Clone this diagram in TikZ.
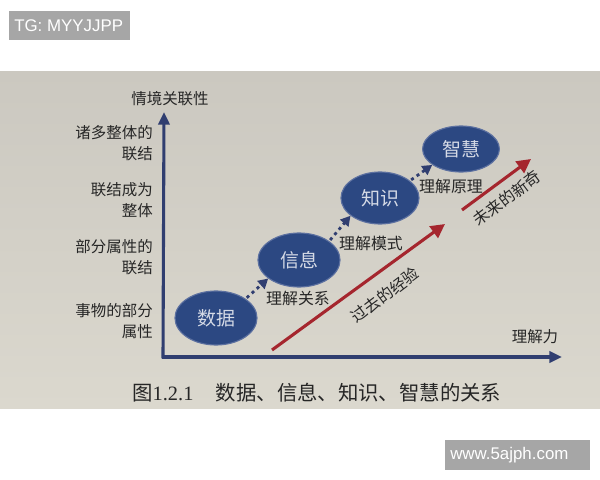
\documentclass[tikz,border=0pt]{standalone}
\usepackage{fontspec}
\setmainfont{Liberation Serif}
\newfontfamily\cjk{Noto Sans CJK SC}
\newfontfamily\wmfont{Liberation Sans}
\usepackage{tikz}
\usetikzlibrary{shapes.geometric, arrows.meta, positioning, calc}

\definecolor{navy1}{RGB}{44, 72, 130}
\definecolor{navyrim}{RGB}{92, 112, 160}
\definecolor{axisblue}{RGB}{48, 62, 112}
\definecolor{redarrow}{RGB}{165, 38, 46}
\definecolor{paper1}{RGB}{203, 200, 192}
\definecolor{paper2}{RGB}{219, 216, 206}
\definecolor{wmgray}{RGB}{166, 166, 166}

\begin{document}
\begin{tikzpicture}[x=0.025cm, y=-0.025cm,
  stage/.style={ellipse, draw=navyrim, line width=0.8pt, fill=navy1, text=white!80!navy1, font=\cjk\fontsize{13.5}{15}\selectfont, minimum width=2.05cm, minimum height=1.35cm, inner sep=0pt},
  axislabel/.style={font=\cjk\fontsize{11}{14.5}\selectfont, text=black!85, align=right, inner sep=0pt},
  steplabel/.style={font=\cjk\fontsize{11.3}{14}\selectfont, text=black!85, inner sep=0pt},
  hop/.style={axisblue, line width=2pt, dash pattern=on 2.2pt off 2.6pt, -{Triangle[length=7pt, width=7.5pt]}, shorten <=1pt},
  trend/.style={redarrow, line width=2.2pt, -{Triangle[length=10pt, width=10pt]}},
  watermark/.style={fill=wmgray, text=white, font=\wmfont\fontsize{12}{14}\selectfont, inner sep=0pt, anchor=west}]

  % Page and photo background
  \useasboundingbox (0,0) rectangle (600,480);
  \fill[white] (0,0) rectangle (600,480);
  \shade[top color=paper1, bottom color=paper2] (0,71) rectangle (600,408);

  % Watermarks
  \fill[wmgray] (9,11) rectangle (130,40);
  \node[watermark] (tg) at (14,25.5) {TG: MYYJJPP};
  \fill[wmgray] (445,440) rectangle (590,470);
  \node[watermark] (site) at (450,455) {www.5ajph.com};

  % Axes
  \coordinate (origin) at (163,357);
  \coordinate (ytop) at (164,112);
  \coordinate (xend) at (562,357);
  \draw[axisblue, line width=2.2pt, -{Triangle[length=9pt, width=8pt]}] ($(origin)+(0,1.5)$) -- (ytop);
  \draw[axisblue, line width=2.2pt, -{Triangle[length=9pt, width=8pt]}] ($(origin)+(-1.5,0)$) -- (xend);
  \node[axislabel] (yname) at (170,99) {情境关联性};
  \node[axislabel] (xname) at (535,337) {理解力};

  % Levels on the vertical axis
  \node[axislabel, anchor=east] (lvl4) at (153,143) {诸多整体的\\联结};
  \node[axislabel, anchor=east] (lvl3) at (153,200) {联结成为\\整体};
  \node[axislabel, anchor=east] (lvl2) at (153,257) {部分属性的\\联结};
  \node[axislabel, anchor=east] (lvl1) at (153,321) {事物的部分\\属性};

  % Stages
  \node[stage] (data) at (216,318) {数据};
  \node[stage] (info) at (299,260) {信息};
  \node[stage, minimum width=1.95cm, minimum height=1.3cm] (know) at (380,198) {知识};
  \node[stage, minimum width=1.92cm, minimum height=1.15cm] (wisdom) at (461,149) {智慧};

  \draw[hop] (data.33) -- (info.211);
  \draw[hop] (info.32) -- (know.211);
  \draw[hop] (know.30) -- (wisdom.209);

  \node[steplabel] (rel) at (298,298) {理解关系};
  \node[steplabel] (pat) at (371,243) {理解模式};
  \node[steplabel] (pri) at (451,186) {理解原理};

  % Past and future
  \coordinate (pastS) at (272,350);
  \coordinate (pastE) at (445,224);
  \coordinate (futS) at (462,210);
  \coordinate (futE) at (531,159);
  \draw[trend] (pastS) -- (pastE);
  \draw[trend] (futS) -- (futE);
  \node[steplabel, rotate=37] (past) at (385,295) {过去的经验};
  \node[steplabel, rotate=37] (future) at (507,198) {未来的新奇};

  % Caption
  \node[font=\fontsize{14.5}{16}\selectfont, text=black!85, anchor=west, inner sep=0pt] (caption) at (132,393) {\cjk 图\rmfamily 1.2.1\hspace{1.1em}\cjk 数据、信息、知识、智慧的关系};
\end{tikzpicture}
\end{document}
